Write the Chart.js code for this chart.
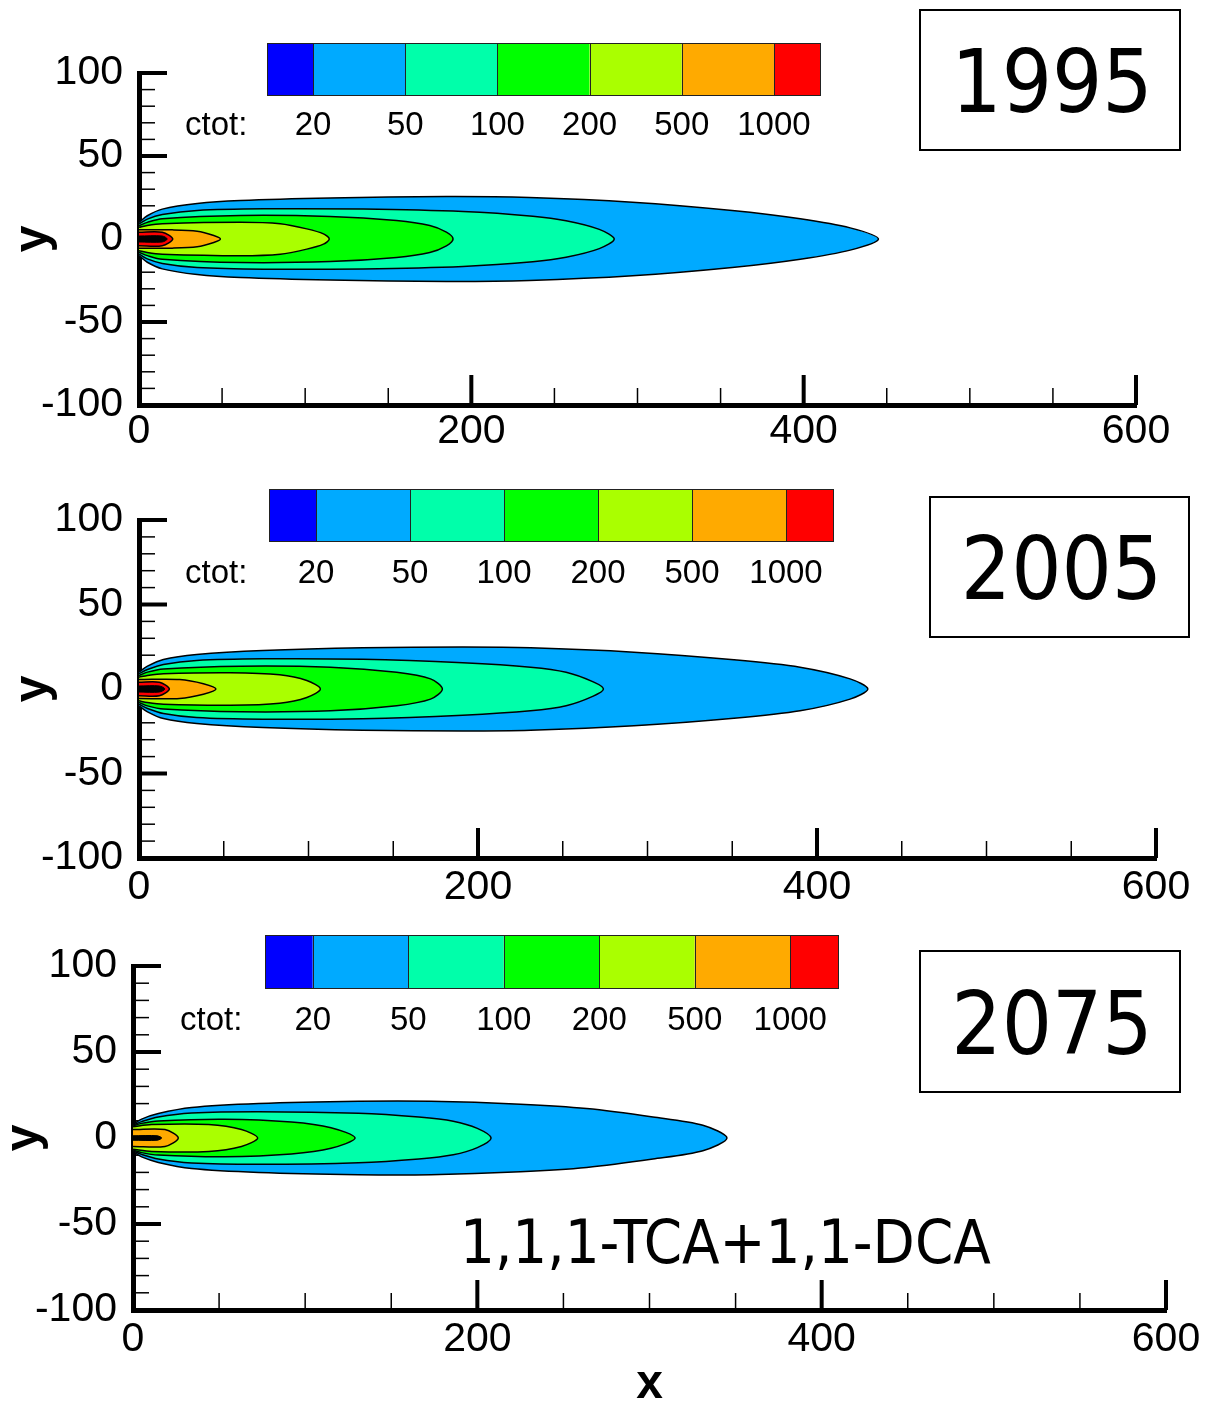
<!DOCTYPE html>
<html><head><meta charset="utf-8">
<script src="https://cdn.jsdelivr.net/npm/chart.js@4.4.1/dist/chart.umd.min.js"></script>
<style>
html,body{margin:0;padding:0;background:#fff;overflow:hidden;width:1210px;height:1404px;position:relative;}
canvas{position:absolute;left:0;display:block;}
</style></head><body>
<canvas id="c1" width="1210" height="465" style="top:0px"></canvas>
<canvas id="c2" width="1210" height="450" style="top:465px"></canvas>
<canvas id="c3" width="1210" height="499" style="top:915px"></canvas>
<script>
// ---------- data ----------
const years = ['1995', '2005', '2075'];
const levelValues = [20, 50, 100, 200, 500, 1000];   // colour-bar tick labels (ctot)
const xTickValues = [0, 200, 400, 600];
const yTickValues = [-100, -50, 0, 50, 100];
const compoundLabel = '1,1,1-TCA+1,1-DCA';

// plume contours: [x, half-width] along the upper edge (symmetric about y = 0)
const plume1995_20   = [[0,10],[5,14],[14,18],[35,21.4],[61,23.2],[115,24.7],[185,25.6],[235,25],[297,22.2],[357,17.2],[398,12.2],[428,6.7],[445,0]];
const plume1995_50   = [[0,9],[5,12],[14,14.7],[35,17.2],[75,18.2],[135,18],[195,16.5],[237,13.7],[257,11],[277,5.8],[286,0]];
const plume1995_100  = [[0,8],[5,10],[14,12.2],[61,14.2],[115,13.6],[155,11.1],[175,8.1],[185,4.1],[189,0]];
const plume1995_200  = [[0,7],[5,8.2],[14,9.2],[61,10.1],[85,9.2],[101,6.1],[111,3.1],[114.5,0]];
const plume1995_500  = [[0,5.5],[20,5.5],[35,4.7],[45,2.1],[49,0]];
const plume1995_1000 = [[0,4.1],[14,4.1],[20.3,0]];
const plume1995_core = [[0,1.8],[14,1.8],[17,0]];

const plume2005_20   = [[0,10],[5,13.5],[14.4,17.5],[34,20.4],[73,22.8],[132,24.4],[191,24.8],[231,24.4],[292,21.8],[351,17.3],[390,12.9],[419.5,6],[430,0]];
const plume2005_50   = [[0,9],[5,11.5],[14.4,14.5],[34,16.9],[73,17.9],[132,17.6],[191,15.5],[231,12.9],[252,9.9],[268,4.2],[274,0]];
const plume2005_100  = [[0,8],[5,10],[14.4,11.9],[60,13.5],[113,12.9],[152,9.9],[172,6],[179,0]];
const plume2005_200  = [[0,7],[5,8],[14.4,9],[54,9.6],[83,8.4],[99,5],[107,0]];
const plume2005_500  = [[0,5.6],[24,5.6],[38,3.1],[45.4,0]];
const plume2005_1000 = [[0,4],[12,4],[17.9,0]];
const plume2005_core = [[0,1.8],[12,1.8],[15.3,0]];

const plume2075_20   = [[0,8],[5,11],[14.7,14.2],[34,17.7],[73,20],[131,21.3],[173,21.3],[225,19.6],[263.5,17.1],[302,12.2],[331,7.4],[345,0]];
const plume2075_50   = [[0,7.5],[5,9.5],[14.7,12.2],[34,14.5],[73,15.3],[131,14.4],[166,12.2],[186,9.8],[200,5.6],[208,0]];
const plume2075_100  = [[0,7],[5,8.5],[14.7,9.9],[53,10.9],[92,9.3],[115,6],[129,0]];
const plume2075_200  = [[0,6.5],[10.8,7.8],[44,7.8],[63,4.9],[72.4,0]];
const plume2075_500  = [[0,4.9],[18.6,4.9],[26.3,0]];
const plume2075_1000 = [];
const plume2075_core = [[0,1.3],[14,1.3],[16.7,0]];

// ---------- styles ----------
const bandColors = ['#0000ff','#00aaff','#00ffaa','#00ff00','#aaff00','#ffaa00','#ff0000'];
const contourFill = ['#00aaff','#00ffaa','#00ff00','#aaff00','#ffaa00','#ff0000','#000000'];

function outline(half) {
  const up = half.map(p => ({x: p[0], y: p[1]}));
  const down = half.slice().reverse().filter(p => p[1] > 0).map(p => ({x: p[0], y: -p[1]}));
  return up.concat(down);
}

const decorPlugin = {
  id: 'decor',
  beforeDatasetsDraw(chart, args, o) {
    const ctx = chart.ctx, xs = chart.scales.x, ys = chart.scales.y, a = chart.chartArea;
    ctx.save();
    ctx.strokeStyle = '#000';
    for (let v = -100; v <= 100; v += 10) {
      const major = yTickValues.includes(v);
      const py = ys.getPixelForValue(v);
      ctx.lineWidth = major ? 4 : 1.5;
      ctx.beginPath(); ctx.moveTo(a.left, py); ctx.lineTo(a.left + (major ? 28 : 16), py); ctx.stroke();
    }
    for (let v = 0; v <= 600; v += 50) {
      const major = xTickValues.includes(v);
      const px = xs.getPixelForValue(v);
      ctx.lineWidth = major ? 4 : 1.5;
      ctx.beginPath(); ctx.moveTo(px, a.bottom); ctx.lineTo(px, a.bottom - (major ? 30 : 17)); ctx.stroke();
    }
    ctx.restore();
  },
  afterDraw(chart, args, o) {
    const ctx = chart.ctx;
    ctx.save();
    // colour bar
    const cb = o.colorbar;
    const u = cb.w / 12;
    const edges = [0,1,3,5,7,9,11,12].map(k => cb.x + k * u);
    for (let i = 0; i < 7; i++) {
      ctx.fillStyle = bandColors[i];
      ctx.fillRect(edges[i], cb.y, edges[i+1] - edges[i], cb.h);
    }
    ctx.strokeStyle = '#222'; ctx.lineWidth = 1;
    for (let i = 1; i < 7; i++) {
      ctx.beginPath(); ctx.moveTo(Math.round(edges[i]) + 0.5, cb.y); ctx.lineTo(Math.round(edges[i]) + 0.5, cb.y + cb.h); ctx.stroke();
    }
    ctx.strokeRect(cb.x + 0.5, cb.y + 0.5, cb.w, cb.h);
    ctx.fillStyle = '#000';
    ctx.font = '33px "Liberation Sans", Arial, sans-serif';
    ctx.textBaseline = 'alphabetic';
    ctx.textAlign = 'center';
    levelValues.forEach((v, i) => ctx.fillText(String(v), edges[i+1], cb.y + cb.h + cb.labelDy));
    ctx.textAlign = 'left';
    ctx.fillText('ctot:', o.ctotX, cb.y + cb.h + cb.labelDy);
    // year box
    const yb = o.yearBox;
    ctx.lineWidth = 2; ctx.strokeStyle = '#000';
    ctx.strokeRect(yb.x, yb.y, yb.w, yb.h);
    ctx.font = '88px "DejaVu Sans Condensed", "DejaVu Sans", sans-serif';
    ctx.textAlign = 'center';
    ctx.fillText(o.year, yb.x + yb.w / 2 + 2, yb.y + yb.h / 2 + 32);
    if (o.label) {
      ctx.textAlign = 'left';
      ctx.font = '61px "DejaVu Sans Condensed", "DejaVu Sans", sans-serif';
      ctx.fillText(o.label.text, o.label.x, o.label.y);
    }
    ctx.restore();
  }
};

function makePanel(id, year, contours, g) {
  const datasets = contours.map((c, i) => ({
    data: outline(c),
    showLine: true,
    fill: 'shape',
    backgroundColor: contourFill[i],
    borderColor: '#000',
    borderWidth: i === contours.length - 1 ? 1 : 1.5,
    pointRadius: 0,
    tension: 0.3
  })).reverse();
  new Chart(document.getElementById(id), {
    type: 'scatter',
    data: { datasets },
    plugins: [decorPlugin],
    options: {
      responsive: false, animation: false, devicePixelRatio: 1,
      layout: { padding: { left: 0, top: g.T, right: 1210 - g.R, bottom: 0 } },
      plugins: {
        legend: { display: false }, tooltip: { enabled: false },
        decor: { year, colorbar: g.cb, ctotX: g.ctotX, yearBox: g.yb, label: g.label }
      },
      scales: {
        x: {
          type: 'linear', min: 0, max: 600, position: 'bottom', z: 1,
          afterBuildTicks: s => { s.ticks = xTickValues.map(v => ({ value: v })); },
          afterFit: s => { s.height = g.H - g.B; },
          grid: { display: false, drawTicks: false },
          border: { display: true, color: '#000', width: 5 },
          ticks: { font: { family: 'Liberation Sans', size: g.fs }, color: '#000', padding: g.xpad, maxRotation: 0, autoSkip: false, callback: v => String(v) },
          title: g.xTitle ? { display: true, text: 'x', color: '#000', font: { family: 'Liberation Sans', size: 48, weight: 'bold' }, padding: { top: 0, bottom: 0 } } : { display: false }
        },
        y: {
          type: 'linear', min: -100, max: 100, position: 'left', z: 1,
          afterBuildTicks: s => { s.ticks = yTickValues.map(v => ({ value: v })); },
          afterFit: s => { s.width = g.L; },
          grid: { display: false, drawTicks: false },
          border: { display: true, color: '#000', width: 5 },
          ticks: { font: { family: 'Liberation Sans', size: g.fs }, color: '#000', padding: 16, callback: v => String(v) },
          title: { display: true, text: 'y', color: '#000', font: { family: 'Liberation Sans', size: 48, weight: 'bold' }, padding: { top: g.ytp, bottom: 0 } }
        }
      }
    }
  });
}

makePanel('c1', years[0],
  [plume1995_20, plume1995_50, plume1995_100, plume1995_200, plume1995_500, plume1995_1000, plume1995_core],
  { H: 465, L: 139, R: 1136, T: 73, B: 405, fs: 41, xpad: 2, ytp: 5,
    cb: { x: 267, y: 43, w: 553, h: 52, labelDy: 40 }, ctotX: 185,
    yb: { x: 920, y: 10, w: 260, h: 140 } });
makePanel('c2', years[1],
  [plume2005_20, plume2005_50, plume2005_100, plume2005_200, plume2005_500, plume2005_1000, plume2005_core],
  { H: 450, L: 139, R: 1156, T: 55, B: 393, fs: 41, xpad: 5, ytp: 5,
    cb: { x: 269, y: 24, w: 564, h: 52, labelDy: 42 }, ctotX: 185,
    yb: { x: 930, y: 32, w: 259, h: 140 } });
makePanel('c3', years[2],
  [plume2075_20, plume2075_50, plume2075_100, plume2075_200, plume2075_500, plume2075_1000, plume2075_core],
  { H: 499, L: 133, R: 1166, T: 51, B: 395, fs: 41, xpad: 5, ytp: -4, xTitle: true,
    cb: { x: 265, y: 20, w: 573, h: 53, labelDy: 42 }, ctotX: 180,
    yb: { x: 920, y: 36, w: 260, h: 141 },
    label: { text: compoundLabel, x: 460, y: 348 } });
</script>
</body></html>
